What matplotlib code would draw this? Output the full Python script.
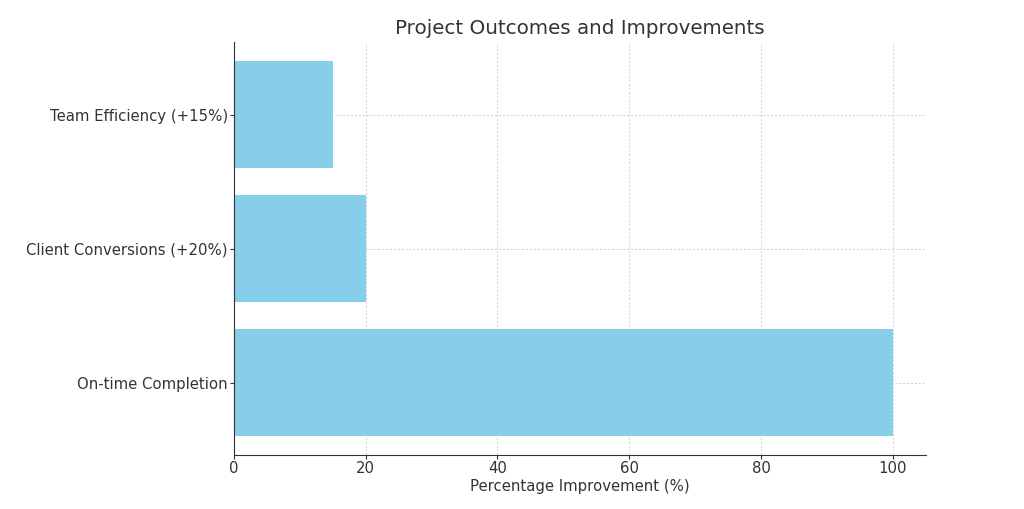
import matplotlib
matplotlib.use("Agg")
import matplotlib.pyplot as plt

# 데이터
categories = ["On-time Completion", "Client Conversions (+20%)", "Team Efficiency (+15%)"]
values = [100, 20, 15]

plt.rcParams['font.family'] = ['DejaVu Sans']
plt.rcParams['text.color'] = '#333333'
plt.rcParams['axes.labelcolor'] = '#333333'
plt.rcParams['xtick.color'] = '#333333'
plt.rcParams['ytick.color'] = '#333333'

fig = plt.figure(figsize=(10.24, 5.09), dpi=100)
ax = fig.add_axes([0.2285, 0.106, 0.6755, 0.811])

ax.barh(categories, values, color='skyblue', height=0.8, zorder=2)
ax.set_xlim(0, 105)
ax.set_title("Project Outcomes and Improvements", fontsize=14.3)
ax.set_xlabel("Percentage Improvement (%)", fontsize=10.7, labelpad=2)
ax.tick_params(labelsize=10.7, length=3, pad=1.5)
ax.grid(True, linestyle=(0, (2, 2)), color='#cccccc', linewidth=0.7, alpha=0.9, zorder=0)
ax.spines['top'].set_visible(False)
ax.spines['right'].set_visible(False)
ax.spines['left'].set_color('#333333')
ax.spines['bottom'].set_color('#333333')

fig.savefig("out.png", dpi=100)
